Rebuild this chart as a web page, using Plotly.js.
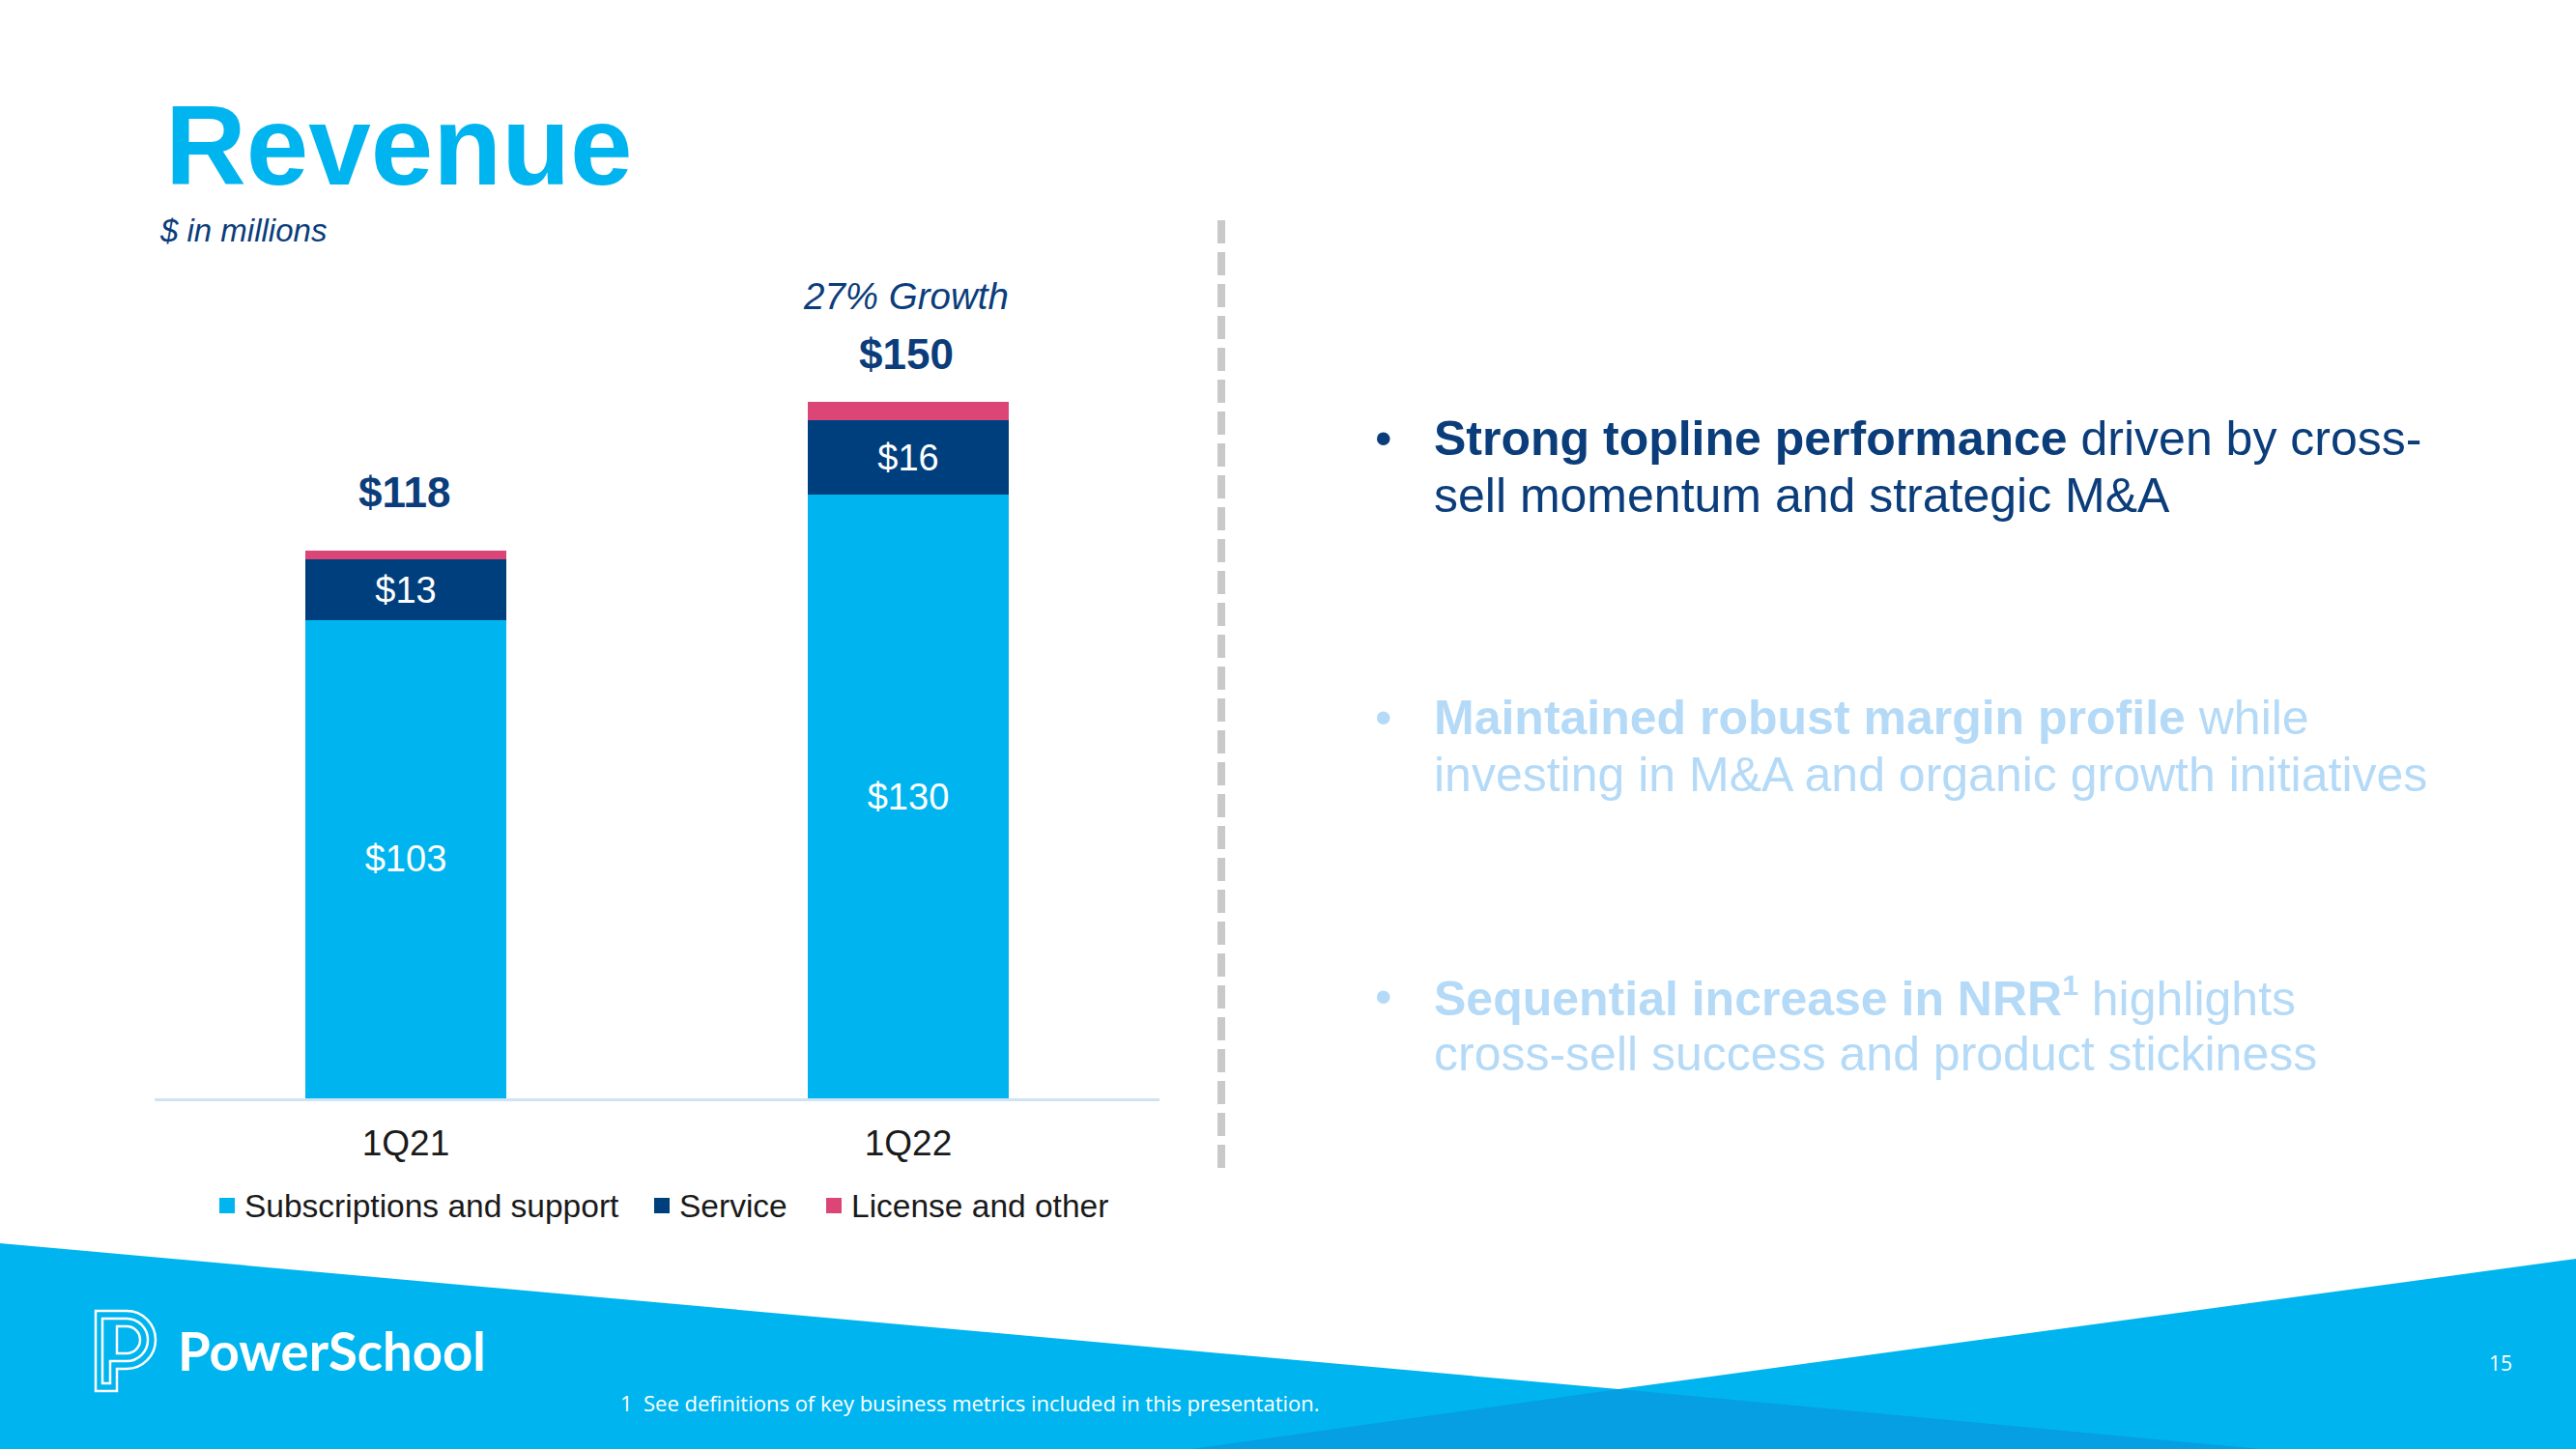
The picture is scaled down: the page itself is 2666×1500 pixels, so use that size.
<!DOCTYPE html>
<html>
<head>
<meta charset="utf-8">
<script src="https://cdn.plot.ly/plotly-3.0.1.min.js"></script>
<style>html,body{margin:0;padding:0;background:#fff;}#chart{width:2666px;height:1500px;}</style>
</head>
<body>
<div id="chart"></div>
<script>
// ---- data ----
const categories = ['1Q21', '1Q22'];
const subscriptions = [103, 130];
const service = [13, 16];
const license = [2, 4];
const seriesNames = ['Subscriptions and support', 'Service', 'License and other'];
const growthLabel = '27% Growth';
const titleText = 'Revenue';
const subtitleText = '$ in millions';
const bullets = [
  {lines: ['<b>Strong topline performance</b> driven by cross-', 'sell momentum and strategic M&A'], active: true},
  {lines: ['<b>Maintained robust margin profile</b> while', 'investing in M&A and organic growth initiatives'], active: false},
  {lines: ['<b>Sequential increase in NRR<sup><span style="font-size:30px">1</span></sup></b> highlights', 'cross-sell success and product stickiness'], active: false}
];
const footnote = '1  See definitions of key business metrics included in this presentation.';
const pageNumber = '15';
const brand = 'PowerSchool';

// ---- styles ----
const COLORS = ['#00B5EF', '#003F7D', '#DC4677'];
const NAVY = '#0B3D7B', LIGHT = '#B4DAF7';
const FONT = 'Liberation Sans, Arial, sans-serif';

const totals = categories.map((c, i) => subscriptions[i] + service[i] + license[i]);

const barCommon = {
  type: 'bar', x: categories, insidetextanchor: 'middle',
  textangle: 0, constraintext: 'none', cliponaxis: false, showlegend: false,
  textfont: {family: FONT, size: 38, color: '#FFFFFF'}, hoverinfo: 'skip'
};

const traces = [
  Object.assign({}, barCommon, {name: seriesNames[0], y: subscriptions, marker: {color: COLORS[0], line: {width: 0}},
    text: subscriptions.map(v => '$' + v), textposition: 'inside'}),
  Object.assign({}, barCommon, {name: seriesNames[1], y: service, marker: {color: COLORS[1], line: {width: 0}},
    text: service.map(v => '$' + v), textposition: 'inside'}),
  Object.assign({}, barCommon, {name: seriesNames[2], y: license, marker: {color: COLORS[2], line: {width: 0}},
    textposition: 'none'}),
  {type: 'scatter', x: [], y: [], xaxis: 'x2', yaxis: 'y2', showlegend: false, hoverinfo: 'skip'}
];

const annotations = [];
// totals above bars
const totalShift = [60, 49];
categories.forEach((c, i) => {
  annotations.push({xref: 'x', yref: 'y', x: c, y: totals[i], yshift: totalShift[i], xshift: -2,
    text: '<b>$' + totals[i] + '</b>',
    showarrow: false, xanchor: 'center', yanchor: 'middle', font: {family: FONT, size: 44, color: NAVY}});
});
annotations.push({xref: 'x', yref: 'y', x: categories[1], y: totals[1], yshift: 109, xshift: -3,
  text: '<i>' + growthLabel + '</i>',
  showarrow: false, xanchor: 'center', yanchor: 'middle', font: {family: FONT, size: 38.5, color: NAVY}});

// pixel-space text
function px(x, y, text, size, color, opts) {
  return Object.assign({xref: 'x2', yref: 'y2', x: x, y: y, text: text, showarrow: false,
    xanchor: 'left', yanchor: 'middle', font: {family: FONT, size: size, color: color}}, opts || {});
}
annotations.push(px(169, 151, '<b>' + titleText + '</b>', 116, '#00B4EF'));
annotations.push(px(163, 238, '<i>' + subtitleText + '</i>', 33, NAVY));

const bulletY = [454, 743, 1032];
bullets.forEach((b, i) => {
  const col = b.active ? NAVY : LIGHT;
  annotations.push(px(1432, bulletY[i], '•', 50, col, {xanchor: 'center'}));
  b.lines.forEach((ln, j) => {
    annotations.push(px(1482, bulletY[i] + j * 59, ln, 50, col));
  });
});

// custom legend (squares + names)
const legendSquareX = [227, 677, 855];
const legendTextX = [251, 701, 879];
const legendY = 1248;
seriesNames.forEach((n, i) => {
  annotations.push(px(legendTextX[i], legendY, n, 33.5, '#1A1A1A'));
});

annotations.push(px(182, 1398, '<b>' + brand + '</b>', 54.5, '#FFFFFF', {font: {family: 'Lato, sans-serif', size: 54.5, color: '#FFFFFF'}}));
annotations.push(px(640, 1452, footnote, 22, '#FFFFFF', {font: {family: 'Open Sans, sans-serif', size: 22, color: '#FFFFFF'}}));
annotations.push(px(2588, 1411, pageNumber, 21, '#FFFFFF', {xanchor: 'center', font: {family: 'Open Sans, sans-serif', size: 21, color: '#FFFFFF'}}));

// logo icon paths (semicircle bowls via cubic beziers)
function pPath(x0, x1, yTop, stemBottom, cx, r) {
  const k = 0.5523 * r, yb = yTop + 2 * r, ym = yTop + r;
  return 'M' + x0 + ',' + stemBottom + ' L' + x0 + ',' + yTop + ' L' + cx + ',' + yTop +
    ' C' + (cx + k) + ',' + yTop + ' ' + (cx + r) + ',' + (ym - k) + ' ' + (cx + r) + ',' + ym +
    ' C' + (cx + r) + ',' + (ym + k) + ' ' + (cx + k) + ',' + yb + ' ' + cx + ',' + yb +
    ' L' + x1 + ',' + yb + ' L' + x1 + ',' + stemBottom + ' Z';
}

const shapes = [
  {type: 'path', xref: 'x2', yref: 'y2', layer: 'below', line: {width: 0}, fillcolor: '#00B5EF',
    path: 'M0,1287 L1675,1438 L2666,1303 L2666,1500 L0,1500 Z'},
  {type: 'path', xref: 'x2', yref: 'y2', layer: 'below', line: {width: 0}, fillcolor: '#069FE4',
    path: 'M1675,1438 L2340,1500 L1233,1500 Z'},
  {type: 'line', xref: 'x2', yref: 'y2', x0: 1264, x1: 1264, y0: 228, y1: 1218,
    line: {color: '#C9C9C9', width: 8, dash: '24px,9px'}},
  {type: 'path', xref: 'x2', yref: 'y2', line: {color: '#FFFFFF', width: 2.5}, fillcolor: 'rgba(0,0,0,0)',
    path: pPath(99, 121, 1357, 1440, 131, 30)},
  {type: 'path', xref: 'x2', yref: 'y2', line: {color: '#FFFFFF', width: 2.5}, fillcolor: 'rgba(0,0,0,0)',
    path: pPath(106, 114, 1365, 1432, 131, 22)},
  {type: 'path', xref: 'x2', yref: 'y2', line: {color: '#FFFFFF', width: 2.5}, fillcolor: 'rgba(0,0,0,0)',
    path: 'M121,1373 L131,1373 C138.7,1373 145,1379.3 145,1387 C145,1394.7 138.7,1401 131,1401 L121,1401 Z'}
];
seriesNames.forEach((n, i) => {
  shapes.push({type: 'rect', xref: 'x2', yref: 'y2', x0: legendSquareX[i], x1: legendSquareX[i] + 16,
    y0: legendY - 8, y1: legendY + 8, line: {width: 0}, fillcolor: COLORS[i]});
});

const layout = {
  width: 2666, height: 1500,
  margin: {l: 0, r: 0, t: 0, b: 0, pad: 0},
  paper_bgcolor: '#FFFFFF', plot_bgcolor: 'rgba(0,0,0,0)',
  barmode: 'stack', bargap: 0.6,
  font: {family: FONT, color: '#1A1A1A'},
  showlegend: false,
  xaxis: {domain: [160 / 2666, 1200 / 2666], type: 'category', range: [-0.5, 1.5],
    showline: true, linecolor: '#CFE3F4', linewidth: 3, ticks: '', showgrid: false, zeroline: false,
    tickfont: {family: FONT, size: 37, color: '#1A1A1A'}, ticklabelstandoff: 12, fixedrange: true},
  yaxis: {domain: [1 - 1137 / 1500, 1 - 237 / 1500], range: [0, 187.2], visible: false,
    showgrid: false, zeroline: false, fixedrange: true},
  xaxis2: {domain: [0, 1], range: [0, 2666], visible: false, anchor: 'y2', fixedrange: true},
  yaxis2: {domain: [0, 1], range: [1500, 0], visible: false, anchor: 'x2', fixedrange: true},
  annotations: annotations,
  shapes: shapes,
  hovermode: false
};

Plotly.newPlot('chart', traces, layout, {staticPlot: true, displayModeBar: false});
</script>
</body>
</html>
